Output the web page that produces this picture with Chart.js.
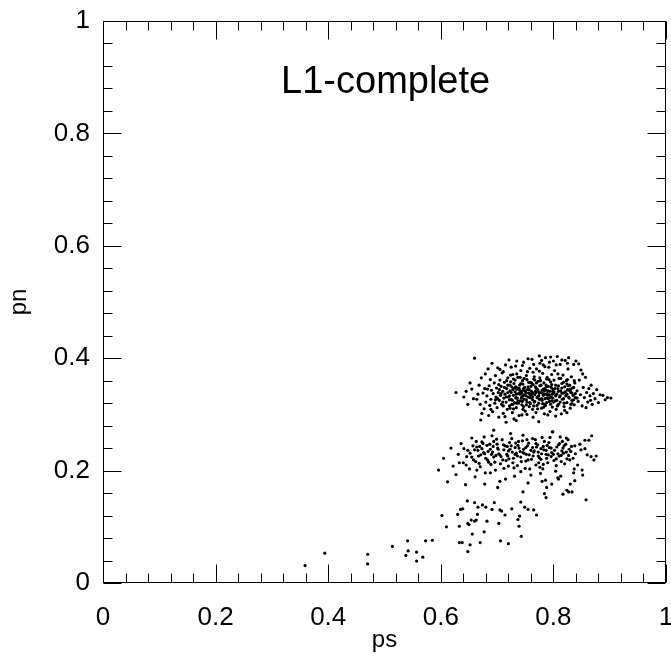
<!DOCTYPE html>
<html lang="en">
<head>
<meta charset="UTF-8">
<title>L1-complete</title>
<style>
    body { margin: 0; padding: 0; background: #fff; }
    canvas { display: block; }
</style>
<script src="https://cdn.jsdelivr.net/npm/chart.js@4"></script>
</head>
<body>
<canvas id="chart" width="671" height="661"></canvas>
<script>
// tick labels (same on both axes)
const xTickLabels = ['0', '0.2', '0.4', '0.6', '0.8', '1'];
const yTickLabels = ['0', '0.2', '0.4', '0.6', '0.8', '1'];

// [ps, pn] pairs
const upperCluster = [
    [0.627,0.339],[0.641,0.331],[0.648,0.318],[0.655,0.345],[0.660,0.400],[0.664,0.327],[0.668,0.352],[0.671,0.290],[0.672,0.365],[0.675,0.338],
    [0.677,0.310],[0.679,0.372],[0.680,0.322],[0.666,0.336],[0.658,0.328],[0.652,0.356],[0.673,0.302],[0.678,0.346],[0.670,0.318],[0.645,0.341],
    [0.682,0.333],[0.684,0.381],[0.685,0.298],[0.686,0.351],[0.687,0.316],[0.688,0.362],[0.689,0.327],[0.690,0.343],[0.691,0.391],[0.692,0.305],
    [0.693,0.337],[0.694,0.272],[0.695,0.356],[0.696,0.320],[0.697,0.369],[0.698,0.331],[0.699,0.347],[0.700,0.312],[0.701,0.383],[0.702,0.339],
    [0.703,0.295],[0.704,0.325],[0.705,0.361],[0.706,0.334],[0.707,0.350],[0.708,0.318],[0.709,0.374],[0.710,0.341],[0.711,0.302],[0.712,0.329],
    [0.713,0.357],[0.714,0.336],[0.715,0.388],[0.716,0.322],[0.717,0.346],[0.718,0.309],[0.719,0.365],[0.720,0.331],[0.683,0.345],[0.689,0.309],
    [0.697,0.326],[0.703,0.353],[0.711,0.376],[0.716,0.286],[0.719,0.339],
    [0.721,0.397],[0.722,0.315],[0.723,0.342],[0.724,0.358],[0.725,0.327],[0.726,0.349],[0.727,0.303],[0.728,0.371],[0.729,0.334],[0.730,0.355],
    [0.731,0.321],[0.732,0.340],[0.733,0.386],[0.734,0.312],[0.735,0.345],[0.736,0.329],[0.737,0.366],[0.738,0.337],[0.739,0.298],[0.740,0.352],
    [0.741,0.324],[0.742,0.378],[0.743,0.341],[0.744,0.317],[0.745,0.360],[0.746,0.333],[0.747,0.393],[0.748,0.327],[0.749,0.348],[0.750,0.306],
    [0.751,0.339],[0.752,0.369],[0.753,0.322],[0.754,0.344],[0.755,0.331],[0.756,0.357],[0.757,0.314],[0.758,0.382],[0.759,0.336],[0.760,0.350],
    [0.722,0.333],[0.724,0.370],[0.726,0.318],[0.728,0.344],[0.730,0.292],[0.732,0.361],[0.734,0.330],[0.736,0.347],[0.738,0.320],[0.740,0.338],
    [0.742,0.355],[0.744,0.331],[0.746,0.309],[0.748,0.364],[0.750,0.342],[0.752,0.326],[0.754,0.376],[0.756,0.338],[0.758,0.321],[0.760,0.334],
    [0.723,0.352],[0.729,0.310],[0.735,0.372],[0.741,0.336],[0.747,0.346],[0.753,0.300],[0.759,0.357],[0.727,0.325],[0.733,0.349],[0.745,0.323],
    [0.761,0.341],[0.762,0.398],[0.763,0.326],[0.764,0.353],[0.765,0.315],[0.766,0.367],[0.767,0.335],[0.768,0.349],[0.769,0.303],[0.770,0.381],
    [0.771,0.330],[0.772,0.344],[0.773,0.359],[0.774,0.320],[0.775,0.338],[0.776,0.391],[0.777,0.327],[0.778,0.352],[0.779,0.311],[0.780,0.343],
    [0.781,0.373],[0.782,0.334],[0.783,0.356],[0.784,0.318],[0.785,0.346],[0.786,0.401],[0.787,0.329],[0.788,0.363],[0.789,0.337],[0.790,0.299],
    [0.791,0.350],[0.792,0.384],[0.793,0.323],[0.794,0.341],[0.795,0.358],[0.796,0.331],[0.797,0.371],[0.798,0.313],[0.799,0.345],[0.800,0.395],
    [0.762,0.337],[0.764,0.375],[0.766,0.322],[0.768,0.341],[0.770,0.356],[0.772,0.310],[0.774,0.333],[0.776,0.365],[0.778,0.339],[0.780,0.325],
    [0.782,0.388],[0.784,0.342],[0.786,0.316],[0.788,0.350],[0.790,0.334],[0.792,0.362],[0.794,0.305],[0.796,0.348],[0.798,0.336],[0.800,0.322],
    [0.763,0.309],[0.769,0.347],[0.775,0.377],[0.781,0.319],[0.787,0.343],[0.793,0.393],[0.799,0.329],[0.767,0.361],[0.779,0.396],[0.791,0.328],
    [0.801,0.340],[0.802,0.378],[0.803,0.324],[0.804,0.352],[0.805,0.309],[0.806,0.336],[0.807,0.403],[0.808,0.346],[0.809,0.318],[0.810,0.364],
    [0.811,0.331],[0.812,0.389],[0.813,0.342],[0.814,0.301],[0.815,0.355],[0.816,0.327],[0.817,0.370],[0.818,0.338],[0.819,0.314],[0.820,0.349],
    [0.821,0.396],[0.822,0.333],[0.823,0.360],[0.824,0.321],[0.825,0.344],[0.826,0.381],[0.827,0.401],[0.828,0.329],[0.829,0.352],[0.830,0.311],
    [0.831,0.339],[0.832,0.367],[0.833,0.325],[0.834,0.347],[0.835,0.334],[0.836,0.389],[0.837,0.317],[0.838,0.356],[0.839,0.330],[0.840,0.395],
    [0.804,0.333],[0.812,0.322],[0.818,0.357],[0.824,0.336],[0.830,0.345],[0.836,0.326],[0.808,0.372],[0.820,0.307],[0.826,0.351],[0.833,0.338],
    [0.842,0.342],[0.844,0.323],[0.846,0.361],[0.848,0.335],[0.849,0.379],[0.851,0.315],[0.853,0.348],[0.855,0.330],[0.857,0.366],[0.859,0.339],
    [0.861,0.322],[0.863,0.346],[0.865,0.333],[0.867,0.352],[0.869,0.318],[0.871,0.337],[0.874,0.328],[0.877,0.344],[0.880,0.321],[0.883,0.335],
    [0.888,0.334],[0.892,0.326],[0.896,0.330],[0.902,0.329],[0.845,0.390],[0.852,0.372],[0.858,0.312],[0.866,0.325],
    [0.701,0.328],[0.704,0.344],[0.707,0.337],[0.710,0.322],[0.713,0.348],[0.716,0.331],[0.719,0.352],[0.722,0.326],[0.725,0.339],[0.728,0.318],
    [0.731,0.347],[0.734,0.336],[0.737,0.324],[0.740,0.343],[0.743,0.329],[0.746,0.354],[0.749,0.335],[0.752,0.317],[0.755,0.349],[0.758,0.330],
    [0.761,0.356],[0.764,0.338],[0.767,0.323],[0.770,0.346],[0.773,0.332],[0.776,0.351],[0.779,0.328],[0.782,0.345],[0.785,0.336],[0.788,0.321],
    [0.791,0.342],[0.794,0.330],[0.797,0.353],[0.800,0.337],[0.803,0.346],[0.806,0.325],[0.809,0.341],[0.812,0.333],[0.815,0.347],[0.818,0.328],
    [0.821,0.340],[0.824,0.354],[0.827,0.331],[0.830,0.343],[0.833,0.319],[0.836,0.348],[0.839,0.337],[0.842,0.329],[0.711,0.315],[0.717,0.360],
    [0.723,0.311],[0.729,0.363],[0.735,0.320],[0.741,0.366],[0.747,0.314],[0.753,0.362],[0.759,0.319],[0.765,0.363],[0.771,0.316],[0.777,0.360],
    [0.783,0.313],[0.789,0.366],[0.795,0.318],[0.801,0.361],[0.807,0.315],[0.813,0.364],[0.819,0.320],[0.825,0.362],[0.831,0.318],[0.837,0.360],
    [0.744,0.338],[0.751,0.333],[0.757,0.344],[0.763,0.331],[0.769,0.339],[0.775,0.327],[0.781,0.337],[0.787,0.352],[0.793,0.335],[0.799,0.341],
    [0.733,0.329],[0.739,0.346],[0.745,0.342],[0.761,0.329],[0.773,0.341],[0.785,0.328],[0.797,0.324],[0.809,0.351],[0.815,0.338],[0.827,0.343],
    [0.705,0.380],[0.725,0.384],[0.745,0.387],[0.765,0.389],[0.785,0.385],[0.805,0.388],[0.825,0.391],[0.735,0.395],[0.755,0.399],[0.795,0.402],
    [0.815,0.397],[0.775,0.404],[0.714,0.296],[0.744,0.299],[0.764,0.295],[0.784,0.301],[0.804,0.297],[0.824,0.303],[0.734,0.289],[0.774,0.287]
];

const lowerBand = [
    [0.596,0.201],[0.605,0.222],[0.612,0.180],[0.618,0.240],[0.622,0.208],[0.627,0.193],[0.631,0.229],[0.636,0.248],[0.640,0.214],[0.644,0.175],
    [0.648,0.236],[0.651,0.203],[0.655,0.258],[0.658,0.219],[0.661,0.189],[0.664,0.242],[0.667,0.226],[0.670,0.207],[0.673,0.251],[0.676,0.232],
    [0.679,0.196],[0.682,0.245],[0.685,0.215],[0.688,0.238],[0.691,0.262],[0.694,0.224],[0.697,0.201],[0.700,0.247],[0.703,0.230],[0.706,0.212],
    [0.709,0.255],[0.712,0.237],[0.715,0.185],[0.718,0.243],[0.721,0.221],[0.724,0.266],[0.727,0.233],[0.730,0.205],[0.733,0.249],[0.736,0.226],
    [0.739,0.240],[0.742,0.198],[0.745,0.253],[0.748,0.231],[0.751,0.217],[0.754,0.244],[0.757,0.228],[0.760,0.192],[0.763,0.257],[0.766,0.235],
    [0.769,0.210],[0.772,0.246],[0.775,0.223],[0.778,0.239],[0.781,0.203],[0.784,0.252],[0.787,0.229],[0.790,0.214],[0.793,0.241],[0.796,0.225],
    [0.799,0.269],[0.802,0.236],[0.805,0.209],[0.808,0.187],[0.811,0.248],[0.814,0.227],[0.817,0.240],[0.820,0.212],[0.823,0.233],[0.826,0.255],
    [0.829,0.219],[0.832,0.243],[0.836,0.196],[0.839,0.230],[0.843,0.210],[0.847,0.247],[0.851,0.201],[0.856,0.239],[0.860,0.228],[0.863,0.254],
    [0.868,0.262],[0.872,0.219],[0.876,0.226],[0.824,0.165],[0.786,0.183],[0.830,0.176],[0.788,0.170],[0.780,0.181],[0.809,0.185],[0.798,0.269],
    [0.856,0.254],[0.849,0.237],[0.867,0.225],[0.837,0.203],[0.852,0.192],[0.838,0.244],[0.823,0.258],
    [0.652,0.231],[0.657,0.244],[0.662,0.216],[0.666,0.236],[0.671,0.228],[0.675,0.248],[0.680,0.222],[0.684,0.234],[0.689,0.211],[0.693,0.243],
    [0.698,0.227],[0.702,0.238],[0.707,0.225],[0.711,0.246],[0.716,0.218],[0.720,0.235],[0.725,0.244],[0.729,0.222],[0.734,0.231],[0.738,0.252],
    [0.743,0.216],[0.747,0.238],[0.752,0.229],[0.756,0.249],[0.761,0.220],[0.765,0.233],[0.770,0.242],[0.774,0.214],[0.779,0.230],[0.783,0.237],
    [0.788,0.222],[0.792,0.250],[0.797,0.232],[0.801,0.218],[0.806,0.242],[0.810,0.226],[0.815,0.235],[0.819,0.244],[0.824,0.221],[0.828,0.238],
    [0.664,0.201],[0.688,0.196],[0.712,0.204],[0.736,0.209],[0.758,0.203],[0.782,0.211],[0.804,0.199],[0.677,0.260],[0.699,0.256],[0.722,0.250],
    [0.746,0.263],[0.768,0.255],[0.794,0.259],[0.816,0.252],[0.633,0.214],[0.641,0.239],[0.646,0.225],[0.705,0.181],[0.731,0.190],[0.755,0.178],
    [0.777,0.195],[0.797,0.176],[0.813,0.190],[0.838,0.182],[0.678,0.176],[0.701,0.170],[0.669,0.243],[0.717,0.229],[0.741,0.234],[0.763,0.241],
    [0.789,0.245],[0.808,0.230],[0.690,0.229],[0.732,0.241],[0.773,0.226],
    [0.655,0.224],[0.660,0.237],[0.668,0.213],[0.673,0.239],[0.678,0.230],[0.683,0.219],[0.687,0.247],[0.692,0.233],[0.696,0.215],[0.701,0.240],
    [0.705,0.228],[0.710,0.219],[0.714,0.244],[0.719,0.226],[0.723,0.238],[0.728,0.214],[0.732,0.229],[0.737,0.245],[0.742,0.224],[0.746,0.232],
    [0.751,0.241],[0.755,0.219],[0.760,0.236],[0.764,0.226],[0.769,0.248],[0.773,0.233],[0.778,0.220],[0.782,0.243],[0.787,0.236],[0.791,0.228],
    [0.796,0.240],[0.800,0.229],[0.805,0.221],[0.809,0.246],[0.814,0.216],[0.818,0.231],[0.822,0.247],[0.827,0.227],[0.831,0.234],[0.835,0.222],
    [0.645,0.210],[0.663,0.252],[0.694,0.252],[0.726,0.257],[0.753,0.255],[0.780,0.259],[0.812,0.260],[0.720,0.208],[0.750,0.204],[0.776,0.206]
];

const tailPoints = [
    [0.359,0.031],[0.394,0.053],[0.470,0.051],[0.470,0.034],[0.514,0.065],[0.538,0.049],[0.541,0.075],[0.542,0.057],[0.557,0.055],[0.557,0.039],
    [0.568,0.046],[0.573,0.075],[0.585,0.076],[0.602,0.120],[0.610,0.100],[0.630,0.122],[0.633,0.101],[0.633,0.072],[0.635,0.131],[0.638,0.072],
    [0.639,0.132],[0.647,0.146],[0.648,0.106],[0.648,0.056],[0.650,0.104],[0.652,0.068],[0.654,0.112],[0.656,0.087],[0.660,0.110],[0.660,0.143],
    [0.663,0.112],[0.665,0.122],[0.666,0.135],[0.670,0.072],[0.674,0.139],[0.677,0.091],[0.680,0.135],[0.682,0.110],[0.691,0.131],[0.695,0.143],
    [0.703,0.106],[0.705,0.130],[0.706,0.075],[0.708,0.128],[0.714,0.121],[0.720,0.070],[0.726,0.132],[0.737,0.113],[0.739,0.101],[0.740,0.119],
    [0.742,0.144],[0.743,0.083],[0.746,0.162],[0.749,0.135],[0.755,0.131],[0.765,0.130],[0.770,0.121],[0.784,0.159],[0.787,0.152],[0.817,0.158],
    [0.827,0.162],[0.833,0.162],[0.858,0.148]
];

const fontFamily = '"Liberation Sans", Arial, Helvetica, sans-serif';
Chart.defaults.font.family = fontFamily;
Chart.defaults.color = '#000';

function toPoints(pairs) {
    return pairs.map(p => ({ x: p[0], y: p[1] }));
}

// box frame, inward ticks on all four sides, and the in-plot label
const frameAndTicks = {
    id: 'frameAndTicks',
    afterDatasetsDraw(chart) {
        const { ctx, chartArea: a, scales: { x, y } } = chart;
        ctx.save();
        ctx.strokeStyle = '#000';
        ctx.lineWidth = 1;
        const L = Math.round(a.left) + 0.5, R = Math.round(a.right) - 0.5;
        const T = Math.round(a.top) + 0.5, B = Math.round(a.bottom) - 0.5;
        ctx.strokeRect(L, T, R - L, B - T);
        ctx.beginPath();
        for (let i = 0; i <= 25; i++) {
            const v = i / 25;
            const len = i % 5 === 0 ? 18 : 9;
            const px = Math.round(x.getPixelForValue(v)) + 0.5;
            const py = Math.round(y.getPixelForValue(v)) + 0.5;
            ctx.moveTo(px, B); ctx.lineTo(px, B - len);
            ctx.moveTo(px, T); ctx.lineTo(px, T + len);
            ctx.moveTo(L, py); ctx.lineTo(L + len, py);
            ctx.moveTo(R, py); ctx.lineTo(R - len, py);
        }
        ctx.stroke();

        ctx.fillStyle = '#000';
        ctx.font = '38px ' + fontFamily;
        ctx.textAlign = 'center';
        ctx.textBaseline = 'alphabetic';
        ctx.fillText('L1-complete', x.getPixelForValue(0.502), y.getPixelForValue(0.871));
        ctx.restore();
    }
};

const dotStyle = { pointRadius: 1.6, pointBorderWidth: 0, pointBackgroundColor: '#000' };

new Chart(document.getElementById('chart').getContext('2d'), {
    type: 'scatter',
    data: {
        datasets: [
            { data: toPoints(upperCluster), ...dotStyle },
            { data: toPoints(lowerBand), ...dotStyle },
            { data: toPoints(tailPoints), ...dotStyle }
        ]
    },
    options: {
        responsive: false,
        devicePixelRatio: 1,
        animation: false,
        layout: { padding: { top: 21, right: 5, left: 0, bottom: 0 } },
        plugins: { legend: { display: false }, tooltip: { enabled: false } },
        scales: {
            x: {
                type: 'linear', min: 0, max: 1,
                grid: { display: false, drawTicks: false },
                border: { display: false },
                ticks: { stepSize: 0.2, padding: 19, maxRotation: 0, autoSkip: false,
                         font: { size: 26 }, callback: (v, i) => xTickLabels[i] },
                title: { display: true, text: 'ps', font: { size: 24 }, padding: { top: 0, bottom: 6 } },
                afterFit(s) { s.height = 78; s.paddingLeft = 0; s.paddingRight = 0; }
            },
            y: {
                type: 'linear', min: 0, max: 1,
                grid: { display: false, drawTicks: false },
                border: { display: false },
                ticks: { stepSize: 0.2, padding: 13, autoSkip: false,
                         font: { size: 26 }, callback: (v, i) => yTickLabels[i] },
                title: { display: true, text: 'pn', font: { size: 24 }, padding: { top: 5, bottom: 0 } },
                afterFit(s) { s.width = 103; s.paddingTop = 0; s.paddingBottom = 0; }
            }
        }
    },
    plugins: [frameAndTicks]
});
</script>
</body>
</html>
